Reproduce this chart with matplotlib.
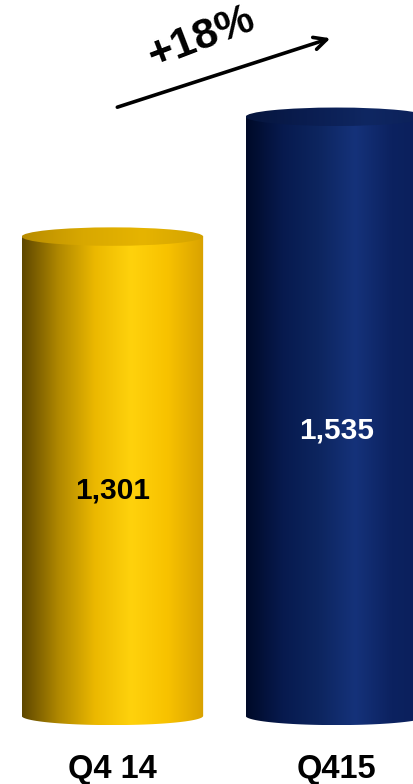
import numpy as np
import matplotlib
matplotlib.use("Agg")
import matplotlib.pyplot as plt
from matplotlib.colors import LinearSegmentedColormap
from matplotlib.patches import Ellipse, PathPatch
from matplotlib.path import Path

# quarterly values
quarters = ["Q4 14", "Q415"]
values = [1301, 1535]
value_colors = ["black", "white"]

# horizontal shading for each cylinder, dark edge on the left, highlight right of centre
gold_body = ["#5e4700", "#b08800", "#ebb800", "#ffd20c", "#f8c200", "#d9a200"]
gold_top = ["#b88c00", "#d8a800", "#e6b400", "#d3a200"]
navy_body = ["#000a28", "#071a4e", "#0d255f", "#15327a", "#0c2260", "#0a1f5a"]
navy_top = ["#06153d", "#0a1d50", "#0f2762", "#0b2058"]

BASE = 365      # value where the cylinders sit
WIDTH = 0.81
RY = 18         # half height of the end ellipses, in value units


def grad_cmap(colors):
    return LinearSegmentedColormap.from_list("g", colors)


def body_path(xc, top):
    # rectangle from the top rim down to the base, closed with the lower half ellipse
    x0, x1 = xc - WIDTH / 2, xc + WIDTH / 2
    t = np.linspace(0, np.pi, 60)
    bx = xc + WIDTH / 2 * np.cos(t)
    by = BASE - RY * np.sin(t)
    verts = [(x0, top), (x1, top)] + list(zip(bx, by)) + [(x0, top)]
    codes = [Path.MOVETO] + [Path.LINETO] * (len(verts) - 2) + [Path.CLOSEPOLY]
    return Path(verts, codes)


def cylinder(ax, xc, top, body_cols, top_cols):
    grad = np.linspace(0, 1, 256).reshape(1, -1)
    x0, x1 = xc - WIDTH / 2, xc + WIDTH / 2
    patch = PathPatch(body_path(xc, top), facecolor="none", edgecolor="none")
    ax.add_patch(patch)
    im = ax.imshow(grad, cmap=grad_cmap(body_cols), extent=[x0, x1, BASE - RY, top],
                   aspect="auto", zorder=2)
    im.set_clip_path(patch)

    lid = Ellipse((xc, top), WIDTH, 2 * RY, facecolor="none", edgecolor="none")
    ax.add_patch(lid)
    im2 = ax.imshow(grad, cmap=grad_cmap(top_cols), extent=[x0, x1, top - RY, top + RY],
                    aspect="auto", zorder=3)
    im2.set_clip_path(lid)


fig = plt.figure(figsize=(4.13, 7.84), dpi=100)
ax = fig.add_axes([0, 0, 1, 1])
ax.set_xlim(-0.502, 1.342)
ax.set_ylim(232, 1763)
ax.axis("off")

x = np.arange(len(quarters))
styles = [(gold_body, gold_top), (navy_body, navy_top)]
for xi, v, (bc, tc), tcol in zip(x, values, styles, value_colors):
    cylinder(ax, xi, v, bc, tc)
    ax.text(xi, (BASE + v) / 2 - 28, f"{v:,}", ha="center", va="center",
            fontsize=21.5, fontweight="bold", color=tcol, family="Liberation Sans", zorder=5)
    ax.text(xi, 261, quarters[xi], ha="center", va="center",
            fontsize=23.5, fontweight="bold", color="black", family="Liberation Sans")

growth = values[1] / values[0] - 1
ax.annotate("", xy=(0.985, 1690), xytext=(0.01, 1552),
            arrowprops=dict(arrowstyle="->,head_length=0.9,head_width=0.45", lw=2.6, color="black"))
ax.text(0.395, 1690, f"+{growth:.0%}", ha="center", va="center", rotation=21,
        fontsize=31, fontweight="bold", family="Liberation Sans")

fig.savefig("out.png", dpi=100)
